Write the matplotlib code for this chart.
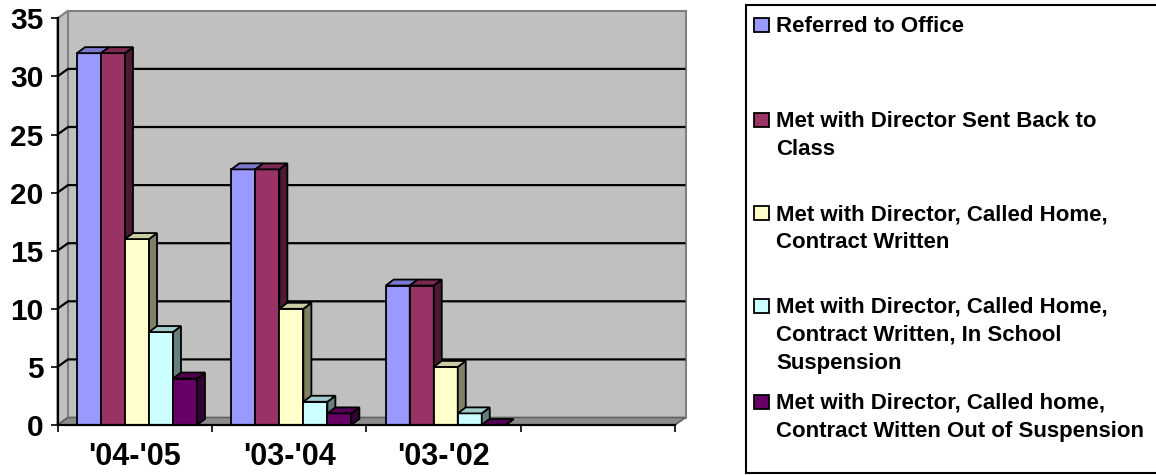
import matplotlib
matplotlib.use("Agg")
import matplotlib.pyplot as plt
from matplotlib.patches import Polygon, Rectangle
from matplotlib.colors import to_rgb
import numpy as np

# ---------------- data ----------------
categories = ["'04-'05", "'03-'04", "'03-'02", ""]
series_names = [
    "Referred to Office",
    "Met with Director Sent Back to\nClass",
    "Met with Director, Called Home,\nContract Written",
    "Met with Director, Called Home,\nContract Written, In School\nSuspension",
    "Met with Director, Called home,\nContract Witten Out of Suspension",
]
referred_to_office = [32, 22, 12]
sent_back_to_class = [32, 22, 12]
contract_written = [16, 10, 5]
in_school_suspension = [8, 2, 1]
out_of_suspension = [4, 1, 0]
series_values = [referred_to_office, sent_back_to_class, contract_written,
                 in_school_suspension, out_of_suspension]
colors = ['#9999FF', '#993366', '#FFFFCC', '#CCFFFF', '#660066']
y_ticks = [0, 5, 10, 15, 20, 25, 30, 35]

# ---------------- style ----------------
plt.rcParams['font.family'] = ['Liberation Sans', 'DejaVu Sans']
plt.rcParams['font.weight'] = 'bold'

W, H = 1156, 475
fig = plt.figure(figsize=(W / 100, H / 100), dpi=100)
fig.patch.set_facecolor('white')

ax_left, ax_right, ax_bottom_px, ax_top_px = 57.5, 675.0, 425.0, 18.3
ax = fig.add_axes([ax_left / W, (H - ax_bottom_px) / H,
                   (ax_right - ax_left) / W, (ax_bottom_px - ax_top_px) / H])
n_slots = len(categories)
ymax = 35
ax.set_xlim(0, n_slots)
ax.set_ylim(0, ymax)
ax.patch.set_visible(False)

px_x = n_slots / (ax_right - ax_left)      # data units per pixel (x)
px_y = ymax / (ax_bottom_px - ax_top_px)   # data units per pixel (y)

# wall depth offset and bar depth offset (pixels)
wdx, wdy = 10.5 * px_x, 7.5 * px_y
bdx, bdy = 8 * px_x, 6 * px_y

wall_gray = '#C0C0C0'
edge_gray = '#808080'

# back wall
ax.add_patch(Polygon([(wdx, wdy), (n_slots + wdx, wdy), (n_slots + wdx, ymax + wdy),
                      (wdx, ymax + wdy)], closed=True, facecolor=wall_gray,
                     edgecolor=edge_gray, lw=1.5, zorder=0.5, clip_on=False))
# side wall
ax.add_patch(Polygon([(0, 0), (wdx, wdy), (wdx, ymax + wdy), (0, ymax)], closed=True,
                     facecolor=wall_gray, edgecolor=edge_gray, lw=1.5, zorder=0.55,
                     clip_on=False))
# floor
ax.add_patch(Polygon([(0, 0), (n_slots, 0), (n_slots + wdx, wdy), (wdx, wdy)], closed=True,
                     facecolor='#8C8C8C', edgecolor='#606060', lw=1.2, zorder=0.6,
                     clip_on=False))
# gridlines on back and side walls
for yv in y_ticks[1:-1]:
    ax.plot([0, wdx, n_slots + wdx], [yv, yv + wdy, yv + wdy], color='black', lw=1.6,
            zorder=0.7, clip_on=False, solid_capstyle='butt')

# bars
n_series = len(series_values)
bar_w = 24 * px_x
group_start = 19.5 * px_x
for j, (vals, col) in enumerate(zip(series_values, colors)):
    base = np.array(to_rgb(col))
    side_c = base * 0.5
    top_c = base * 0.8
    xl = np.arange(len(vals)) + group_start + j * bar_w
    z = 10 + 3 * j
    ax.bar(xl, vals, width=bar_w, align='edge', color=col, edgecolor='black',
           lw=1.3, zorder=z, clip_on=False)
    for x0, h in zip(xl, vals):
        x1 = x0 + bar_w
        ax.add_patch(Polygon([(x1, 0), (x1 + bdx, bdy), (x1 + bdx, h + bdy), (x1, h)],
                             closed=True, facecolor=side_c, edgecolor='black', lw=1.3,
                             zorder=z + 1, clip_on=False))
        ax.add_patch(Polygon([(x0, h), (x1, h), (x1 + bdx, h + bdy), (x0 + bdx, h + bdy)],
                             closed=True, facecolor=top_c, edgecolor='black', lw=1.3,
                             zorder=z + 2, clip_on=False))

# axes
for s in ['top', 'right']:
    ax.spines[s].set_visible(False)
for s in ['left', 'bottom']:
    ax.spines[s].set_color('black')
    ax.spines[s].set_linewidth(1.6)
    ax.spines[s].set_zorder(40)
ax.set_yticks(y_ticks)
ax.set_yticklabels([str(v) for v in y_ticks])
ax.set_xticks(np.arange(n_slots + 1))
ax.set_xticklabels([])
ax.set_xticks(np.arange(n_slots) + 0.5, minor=True)
ax.set_xticklabels(categories, minor=True)
ax.tick_params(axis='y', which='major', direction='out', length=5, width=1.2,
               labelsize=21.5, pad=5, colors='black')
ax.tick_params(axis='x', which='major', direction='out', length=5, width=1.2)
ax.tick_params(axis='x', which='minor', length=0, labelsize=22, pad=12)

# ---------------- legend (pixel coordinates) ----------------
lax = fig.add_axes([0, 0, 1, 1])
lax.set_xlim(0, W)
lax.set_ylim(H, 0)
lax.axis('off')
lax.add_patch(Rectangle((746, 5), 430, 468, facecolor='white', edgecolor='black',
                        lw=1.5, clip_on=False))
first_baselines = [32, 127, 220, 313, 409]
line_gap = 28
for name, col, yb in zip(series_names, colors, first_baselines):
    lax.add_patch(Rectangle((754, yb - 14.5), 14.5, 14.5, facecolor=col,
                            edgecolor='black', lw=1.3))
    for k, line in enumerate(name.split('\n')):
        lax.text(776, yb + k * line_gap, line, fontsize=16, fontweight='bold',
                 va='baseline', ha='left', color='black')

fig.savefig('out.png', dpi=100, facecolor='white')
